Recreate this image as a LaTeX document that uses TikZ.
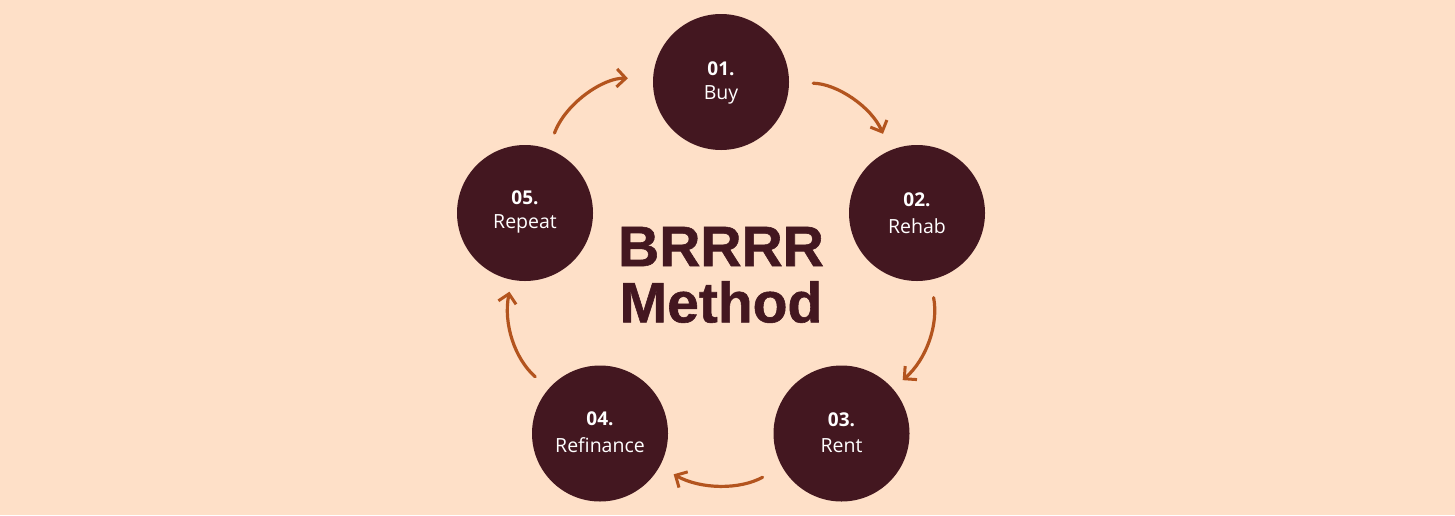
\documentclass[tikz,border=0pt]{standalone}
\usepackage{fontspec}
\setmainfont{Open Sans}
\newfontfamily\titlefont[BoldFeatures={FakeBold=1}]{Liberation Sans}
\definecolor{bgpeach}{HTML}{FEE0C8}
\definecolor{discmaroon}{HTML}{431720}
\definecolor{arrowrust}{HTML}{B3541E}
\usetikzlibrary{arrows.meta}
\tikzset{
	stepdisc/.style={circle, fill=discmaroon, minimum size=136pt, inner sep=0pt},
	stepnum/.style={text=white, font=\fontsize{19pt}{21pt}\selectfont\bfseries, align=center},
	stepname/.style={text=white, font=\fontsize{19.5pt}{21pt}\selectfont, align=center},
	titletext/.style={text=discmaroon, font=\fontsize{57pt}{60pt}\titlefont\bfseries},
	steparrow/.style={draw=arrowrust, line width=3.2pt, line cap=round, -{Straight Barb[length=9pt,width=18pt,line width=3pt]}}
}
\begin{document}
\begin{tikzpicture}[x=1pt,y=-1pt]
	\fill [bgpeach] (0,0) rectangle (1455,515);
	\useasboundingbox (0,0) rectangle (1455,515);
	% discs
	\node [stepdisc] (buy) at (721,82) {};
	\node [stepdisc] (rehab) at (917,213) {};
	\node [stepdisc] (rent) at (841.5,433.5) {};
	\node [stepdisc] (refinance) at (600,433.5) {};
	\node [stepdisc] (repeat) at (525,213) {};
	% labels
	\node [stepnum] (buynum) at (721,69) {01.};
	\node [stepname] (buyname) at (721,95) {Buy};
	\node [stepnum] (rehabnum) at (917,200) {02.};
	\node [stepname] (rehabname) at (917,226) {Rehab};
	\node [stepnum] (rentnum) at (841.5,420) {03.};
	\node [stepname] (rentname) at (841.5,446) {Rent};
	\node [stepnum] (refinancenum) at (600,419) {04.};
	\node [stepname] (refinancename) at (600,445) {Refinance};
	\node [stepnum] (repeatnum) at (525,198) {05.};
	\node [stepname] (repeatname) at (525,224) {Repeat};
	% centre title
	\node [titletext] (titlebrrrr) at (721,246.5) {BRRRR};
	\node [titletext] (titlemethod) at (721,302) {Method};
	% arrows
	\draw [steparrow, shorten <=24pt, shorten >=18pt] (buy) to[bend left=33] (rehab);
	\draw [steparrow, shorten <=18pt, shorten >=13pt] (rehab) to[bend left=30] (rent);
	\draw [steparrow, shorten <=22pt, shorten >=16pt] (rent) to[bend left=29] (refinance);
	\draw [steparrow, shorten <=18pt, shorten >=12pt] (refinance) to[bend left=30] (repeat);
	\draw [steparrow, shorten <=17pt, shorten >=25pt] (repeat) to[bend left=36] (buy);
\end{tikzpicture}
\end{document}
